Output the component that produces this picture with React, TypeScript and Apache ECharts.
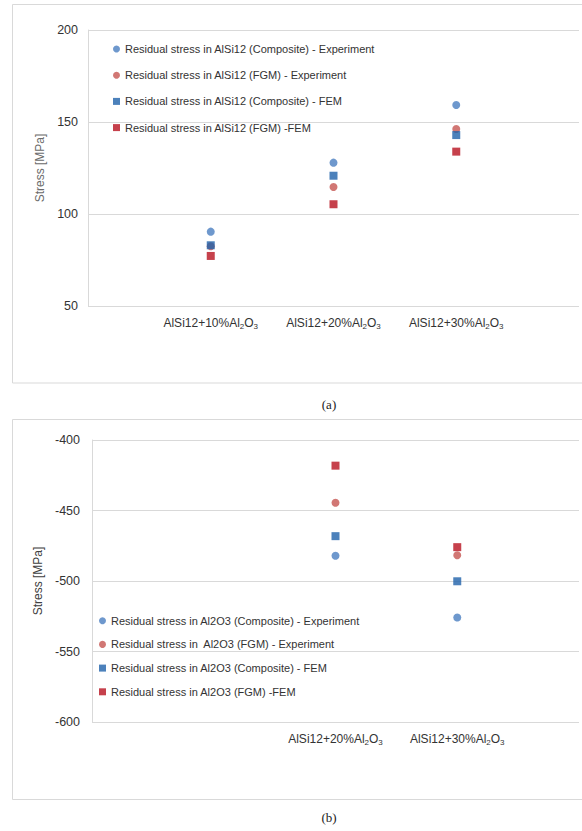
import React, { useEffect, useRef } from "react";
import * as echarts from "echarts";

// Top chart (a): residual stress in AlSi12
const topCategories = ["AlSi12+10%Al2O3", "AlSi12+20%Al2O3", "AlSi12+30%Al2O3"];
const topCategoryPos = [1, 2, 3];
const alsiCompExp = [90.4, 127.9, 159.2];
const alsiFgmExp = [82.5, 114.7, 146.2];
const alsiCompFem = [83.0, 120.8, 142.9];
const alsiFgmFem = [77.2, 105.3, 133.9];
const topYTicks = { min: 50, max: 200, interval: 50 };

// Bottom chart (b): residual stress in Al2O3
const bottomCategories = ["AlSi12+20%Al2O3", "AlSi12+30%Al2O3"];
const bottomCategoryPos = [2, 3];
const al2o3CompExp = [-482.1, -525.9];
const al2o3FgmExp = [-444.5, -481.7];
const al2o3CompFem = [-468.2, -500.2];
const al2o3FgmFem = [-418.2, -476.0];
const bottomYTicks = { min: -600, max: -400, interval: 50 };

const topNames = [
  "Residual stress in AlSi12 (Composite) - Experiment",
  "Residual stress in AlSi12 (FGM) - Experiment",
  "Residual stress in AlSi12 (Composite) - FEM",
  "Residual stress in AlSi12 (FGM) -FEM",
];
const bottomNames = [
  "Residual stress in Al2O3 (Composite) - Experiment",
  "Residual stress in  Al2O3 (FGM) - Experiment",
  "Residual stress in Al2O3 (Composite) - FEM",
  "Residual stress in Al2O3 (FGM) -FEM",
];

const COLORS = ["#4A7EC0", "#C65551", "#1F62AA", "#B8121F"];
const SYMBOLS = ["circle", "circle", "rect", "rect"];
const FONT = "'Liberation Sans', Arial, sans-serif";

function toRich(label: string): string {
  return label.replace("Al2O3", "Al{s|2}O{s|3}");
}

function makeLabelFormatter(pos: number[], cats: string[]) {
  return (v: number) => {
    const i = pos.indexOf(Math.round(v));
    return i >= 0 ? toRich(cats[i]) : "";
  };
}

export default function App() {
  const ref = useRef<HTMLDivElement>(null);

  useEffect(() => {
    if (!ref.current) return;
    const chart = echarts.init(ref.current, undefined, { renderer: "svg" });

    const topSeriesData = [alsiCompExp, alsiFgmExp, alsiCompFem, alsiFgmFem];
    const bottomSeriesData = [al2o3CompExp, al2o3FgmExp, al2o3CompFem, al2o3FgmFem];

    const series: any[] = [];
    topSeriesData.forEach((vals, k) => {
      series.push({
        type: "scatter",
        name: topNames[k],
        xAxisIndex: 0,
        yAxisIndex: 0,
        symbol: SYMBOLS[k],
        symbolSize: 8,
        itemStyle: { color: COLORS[k] },
        data: vals.map((v, i) => [topCategoryPos[i], v]),
      });
    });
    bottomSeriesData.forEach((vals, k) => {
      series.push({
        type: "scatter",
        name: bottomNames[k],
        xAxisIndex: 1,
        yAxisIndex: 1,
        symbol: SYMBOLS[k],
        symbolSize: 8,
        itemStyle: { color: COLORS[k] },
        data: vals.map((v, i) => [bottomCategoryPos[i], v]),
      });
    });

    const xAxisCommon = (pos: number[], cats: string[]) => ({
      type: "value",
      min: 0,
      max: 4,
      interval: 1,
      axisLine: { show: false },
      axisTick: { show: false },
      splitLine: { show: false },
      axisLabel: {
        margin: 10,
        color: "#333333",
        fontFamily: FONT,
        fontSize: 12,
        formatter: makeLabelFormatter(pos, cats),
        rich: {
          s: { fontSize: 8, fontFamily: FONT, color: "#333333", padding: [6, 0, 0, 0] },
        },
      },
    });

    const yAxisCommon = (ticks: any, nameGap: number, nameColor: string, margin: number) => ({
      type: "value",
      min: ticks.min,
      max: ticks.max,
      interval: ticks.interval,
      name: "Stress [MPa]",
      nameLocation: "middle",
      nameGap,
      nameTextStyle: { color: nameColor, fontFamily: FONT, fontSize: 12 },
      axisLine: { show: true, lineStyle: { color: "#d9d9d9", width: 1 } },
      axisTick: { show: false },
      splitLine: { show: true, lineStyle: { color: "#d9d9d9", width: 1 } },
      axisLabel: { margin, color: "#333333", fontFamily: FONT, fontSize: 12.5 },
    });

    const legendCommon = {
      orient: "vertical",
      selectedMode: false,
      padding: 0,
      itemWidth: 7,
      itemHeight: 7,
      textStyle: { color: "#333333", fontFamily: FONT, fontSize: 11, lineHeight: 14 },
    };

    chart.setOption({
      animation: false,
      backgroundColor: "#ffffff",
      grid: [
        { left: 88, top: 30, width: 494, height: 276 },
        { left: 92, top: 440, width: 492, height: 282 },
      ],
      xAxis: [
        { ...xAxisCommon(topCategoryPos, topCategories), gridIndex: 0 },
        { ...xAxisCommon(bottomCategoryPos, bottomCategories), gridIndex: 1 },
      ],
      yAxis: [
        { ...yAxisCommon(topYTicks, 29, "#6b6b6b", 10), gridIndex: 0 },
        { ...yAxisCommon(bottomYTicks, 37, "#404040", 12), gridIndex: 1 },
      ],
      legend: [
        {
          ...legendCommon,
          data: topNames.map((n, k) => ({ name: n, icon: SYMBOLS[k] })),
          left: 113,
          top: 42,
          itemGap: 12.2,
        },
        {
          ...legendCommon,
          data: bottomNames.map((n, k) => ({ name: n, icon: SYMBOLS[k] })),
          left: 99,
          top: 613.7,
          itemGap: 9.7,
        },
      ],
      graphic: [
        {
          type: "rect",
          shape: { x: 12.5, y: 4.5, width: 580, height: 378.5 },
          style: { fill: "none", stroke: "#d9d9d9", lineWidth: 1 },
          silent: true,
          z: -10,
        },
        {
          type: "rect",
          shape: { x: 12.5, y: 419.5, width: 580, height: 380 },
          style: { fill: "none", stroke: "#d9d9d9", lineWidth: 1 },
          silent: true,
          z: -10,
        },
        {
          type: "text",
          x: 329,
          y: 404,
          style: {
            text: "(a)",
            fill: "#222222",
            font: "13px 'Liberation Serif', 'Times New Roman', serif",
            textAlign: "center",
            textVerticalAlign: "middle",
          },
        },
        {
          type: "text",
          x: 329,
          y: 817,
          style: {
            text: "(b)",
            fill: "#222222",
            font: "13px 'Liberation Serif', 'Times New Roman', serif",
            textAlign: "center",
            textVerticalAlign: "middle",
          },
        },
      ],
      series,
    });

    return () => chart.dispose();
  }, []);

  return (
    <div
      ref={ref}
      style={{ position: "absolute", left: 0, top: 0, width: 582, height: 831 }}
    />
  );
}
